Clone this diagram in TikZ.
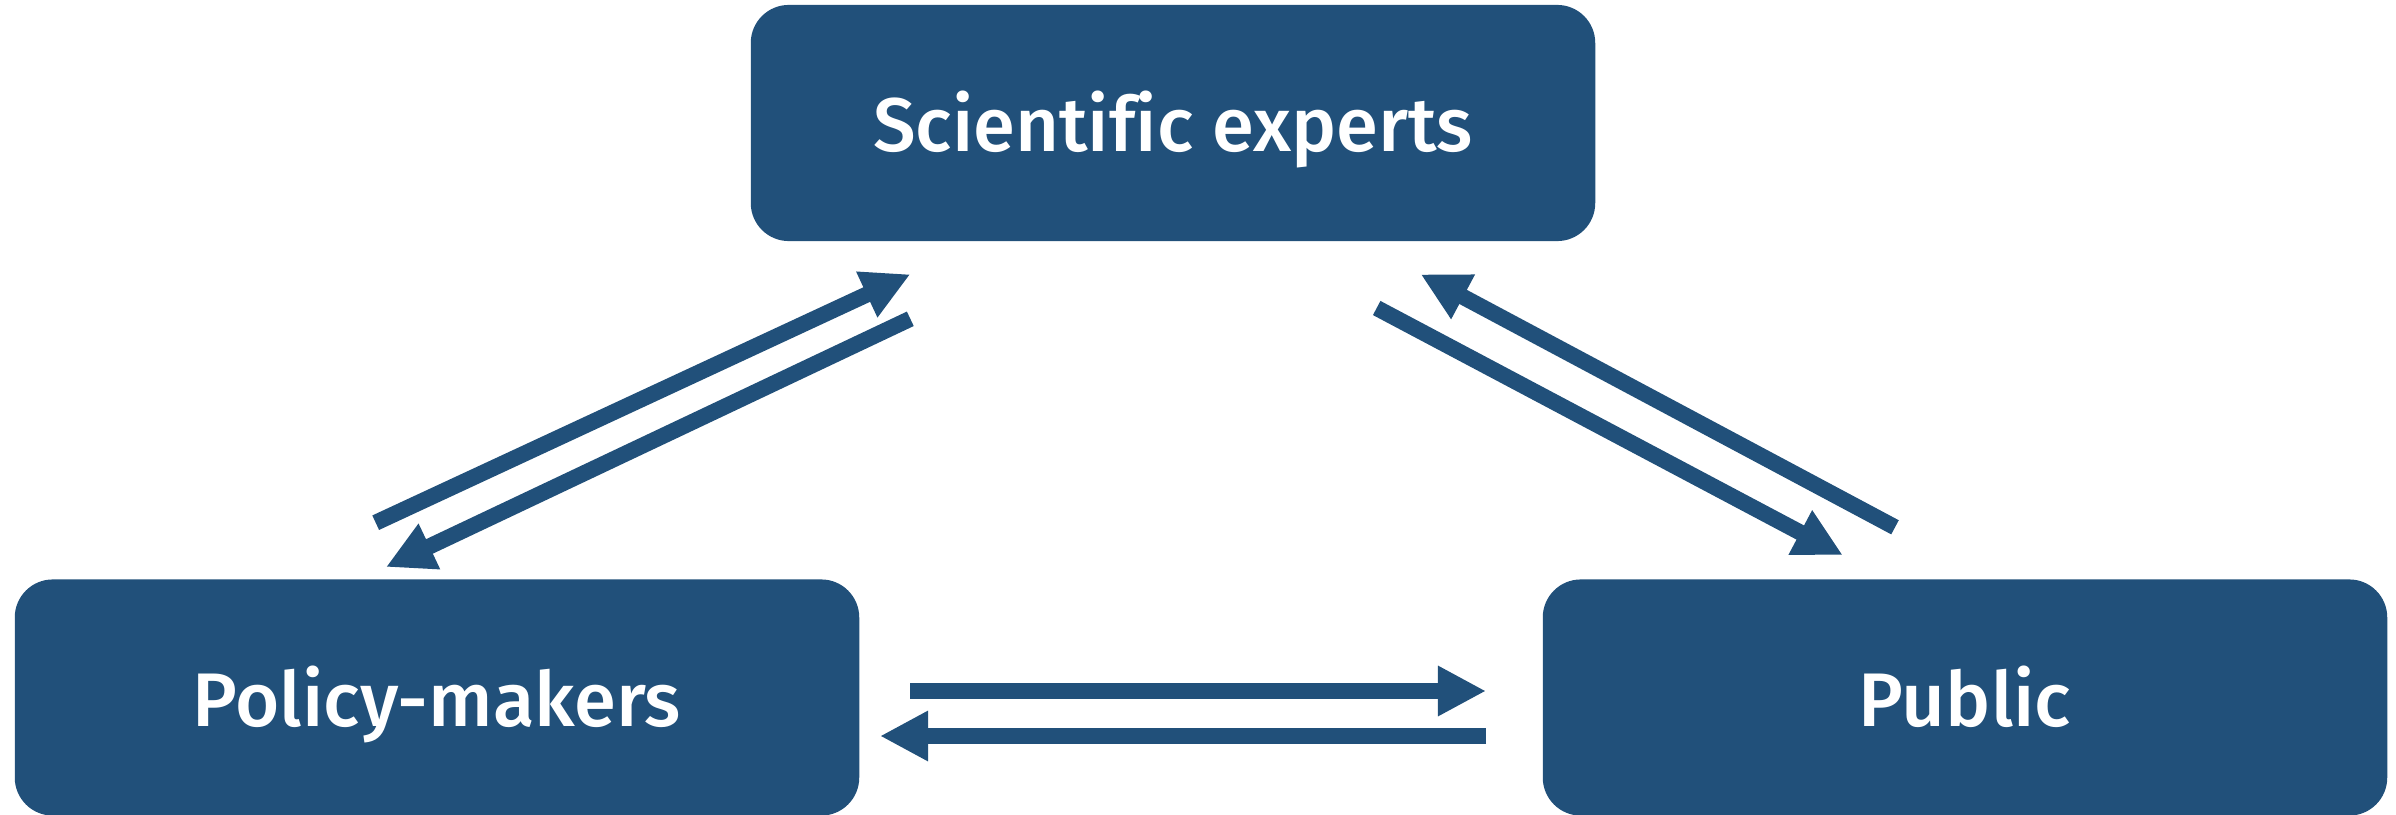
\documentclass[tikz,border=0pt]{standalone}
\usepackage{fontspec}
\setmainfont{Fira Sans}[UprightFont={* Medium}, Ligatures=NoCommon]
\usetikzlibrary{arrows.meta}
\definecolor{boxblue}{RGB}{33,80,122}
\tikzset{actor/.style={rectangle, rounded corners=0.38cm, fill=boxblue, text=white,
                       minimum width=8.44cm, minimum height=2.36cm, inner sep=0pt,
                       text height=0.75cm, text depth=0.18cm,
                       font=\fontsize{21.6}{26}\selectfont},
         flow/.style={draw=boxblue, line width=0.16cm,
                      -{Triangle[length=0.48cm, width=0.47cm]}}}

\begin{document}
\begin{tikzpicture}[x=0.01cm, y=-0.01cm]
        \useasboundingbox (0,0) rectangle (2396,815);
        \node[actor] (sci) at (1173,123) {Scientific experts};
        \node[actor] (pol) at (437,697.5) {Policy-makers};
        \node[actor] (pub) at (1965,697.5) {Public};
        % loose ends of the arrows
        \coordinate (ps0) at (375.7,522.7);
        \coordinate (ps1) at (910.3,274.3);
        \coordinate (sp0) at (910.3,318.8);
        \coordinate (sp1) at (386,567);
        \coordinate (su0) at (1376.7,308);
        \coordinate (su1) at (1842.7,555);
        \coordinate (us0) at (1895,527.3);
        \coordinate (us1) at (1420.7,274.3);
        \coordinate (pu0) at (910,691);
        \coordinate (pu1) at (1486,691);
        \coordinate (up0) at (1486,736);
        \coordinate (up1) at (880,736);
        \draw[flow] (ps0) -- (ps1);
        \draw[flow] (sp0) -- (sp1);
        \draw[flow] (su0) -- (su1);
        \draw[flow] (us0) -- (us1);
        \draw[flow] (pu0) -- (pu1);
        \draw[flow] (up0) -- (up1);
    \end{tikzpicture}
\end{document}
